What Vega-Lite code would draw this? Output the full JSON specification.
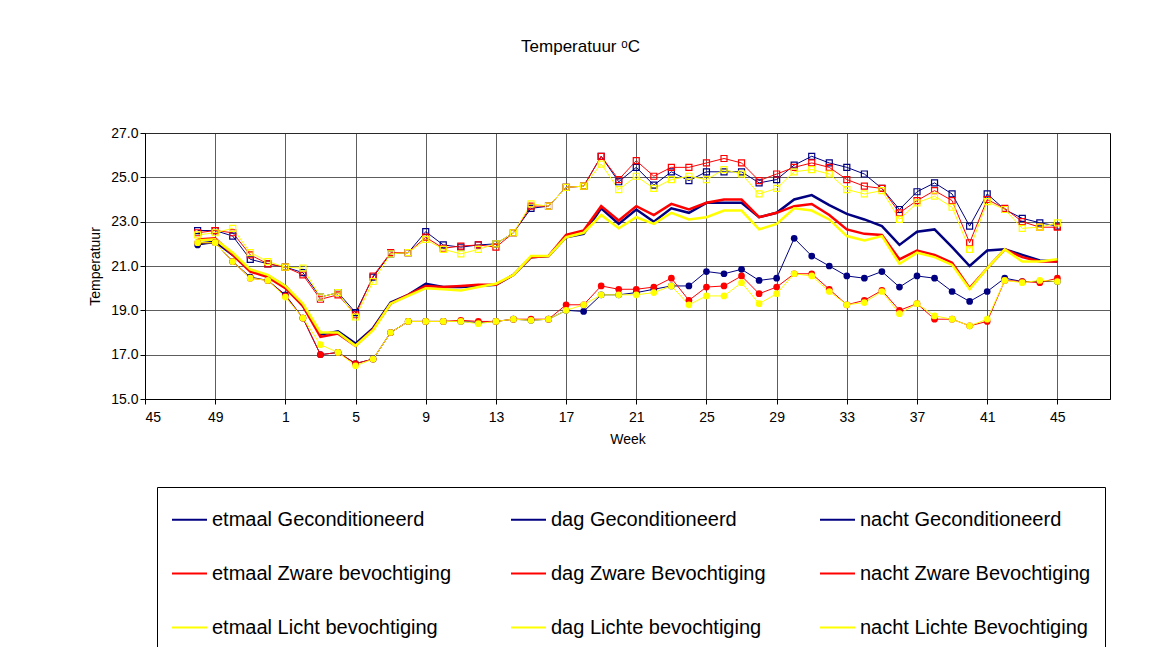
{
  "$schema": "https://vega.github.io/schema/vega-lite/v6.json",
  "width": 965,
  "height": 266,
  "autosize": "none",
  "padding": {"left": 145, "top": 133, "right": 49, "bottom": 248},
  "background": "white",
  "config": {
    "font": "Liberation Sans",
    "view": {"stroke": "black", "strokeWidth": 1},
    "axis": {"labelFontSize": 14, "titleFontSize": 14, "titleFontWeight": "normal", "labelColor": "black", "titleColor": "black", "domainColor": "black", "tickColor": "black", "gridColor": "#333", "gridWidth": 0.8}
  },
  "title": {"text": "Temperatuur ᵒC", "fontSize": 17, "fontWeight": "normal", "anchor": "middle", "dx": -47, "offset": 70},
  "data": {"values": [
    {"i":3,"eG":22.0,"dG":22.6,"nG":21.95,"eZ":22.2,"dZ":22.5,"nZ":22.05,"eL":22.15,"dL":22.4,"nL":22.05},
    {"i":4,"eG":22.1,"dG":22.6,"nG":22.05,"eZ":22.25,"dZ":22.6,"nZ":22.05,"eL":22.2,"dL":22.5,"nL":22.05},
    {"i":5,"eG":21.5,"dG":22.35,"nG":21.2,"eZ":21.5,"dZ":22.5,"nZ":21.2,"eL":21.6,"dL":22.7,"nL":21.2},
    {"i":6,"eG":20.8,"dG":21.3,"nG":20.5,"eZ":20.75,"dZ":21.5,"nZ":20.45,"eL":20.85,"dL":21.6,"nL":20.45},
    {"i":7,"eG":20.55,"dG":21.1,"nG":20.35,"eZ":20.5,"dZ":21.1,"nZ":20.35,"eL":20.6,"dL":21.2,"nL":20.35},
    {"i":8,"eG":20.1,"dG":20.95,"nG":19.7,"eZ":20.0,"dZ":20.95,"nZ":19.65,"eL":20.1,"dL":20.95,"nL":19.6},
    {"i":9,"eG":19.2,"dG":20.7,"nG":18.65,"eZ":19.2,"dZ":20.6,"nZ":18.65,"eL":19.3,"dL":20.9,"nL":18.65},
    {"i":10,"eG":17.9,"dG":19.6,"nG":17.0,"eZ":17.8,"dZ":19.5,"nZ":17.0,"eL":18.0,"dL":19.6,"nL":17.45},
    {"i":11,"eG":18.05,"dG":19.8,"nG":17.1,"eZ":17.95,"dZ":19.7,"nZ":17.1,"eL":18.0,"dL":19.8,"nL":17.1},
    {"i":12,"eG":17.5,"dG":18.9,"nG":16.6,"eZ":17.4,"dZ":18.8,"nZ":16.6,"eL":17.4,"dL":18.7,"nL":16.5},
    {"i":13,"eG":18.2,"dG":20.5,"nG":16.8,"eZ":18.15,"dZ":20.55,"nZ":16.8,"eL":18.1,"dL":20.3,"nL":16.8},
    {"i":14,"eG":19.35,"dG":21.55,"nG":18.0,"eZ":19.3,"dZ":21.6,"nZ":18.0,"eL":19.3,"dL":21.55,"nL":18.0},
    {"i":15,"eG":19.7,"dG":21.6,"nG":18.5,"eZ":19.7,"dZ":21.6,"nZ":18.5,"eL":19.65,"dL":21.6,"nL":18.5},
    {"i":16,"eG":20.2,"dG":22.55,"nG":18.5,"eZ":20.1,"dZ":22.3,"nZ":18.5,"eL":20.0,"dL":22.2,"nL":18.5},
    {"i":17,"eG":20.05,"dG":21.95,"nG":18.5,"eZ":20.05,"dZ":21.8,"nZ":18.5,"eL":19.95,"dL":21.75,"nL":18.5},
    {"i":18,"eG":20.05,"dG":21.85,"nG":18.5,"eZ":20.1,"dZ":21.9,"nZ":18.55,"eL":19.9,"dL":21.55,"nL":18.5},
    {"i":19,"eG":20.1,"dG":21.95,"nG":18.45,"eZ":20.15,"dZ":21.95,"nZ":18.5,"eL":20.05,"dL":21.75,"nL":18.4},
    {"i":20,"eG":20.15,"dG":22.0,"nG":18.5,"eZ":20.15,"dZ":21.85,"nZ":18.5,"eL":20.2,"dL":22.0,"nL":18.5},
    {"i":21,"eG":20.6,"dG":22.5,"nG":18.6,"eZ":20.6,"dZ":22.5,"nZ":18.6,"eL":20.6,"dL":22.5,"nL":18.6},
    {"i":22,"eG":21.4,"dG":23.6,"nG":18.55,"eZ":21.4,"dZ":23.7,"nZ":18.6,"eL":21.45,"dL":23.8,"nL":18.55},
    {"i":23,"eG":21.45,"dG":23.7,"nG":18.6,"eZ":21.45,"dZ":23.7,"nZ":18.6,"eL":21.45,"dL":23.7,"nL":18.6},
    {"i":24,"eG":22.3,"dG":24.55,"nG":19.0,"eZ":22.4,"dZ":24.55,"nZ":19.25,"eL":22.3,"dL":24.55,"nL":19.0},
    {"i":25,"eG":22.45,"dG":24.6,"nG":18.95,"eZ":22.6,"dZ":24.6,"nZ":19.25,"eL":22.5,"dL":24.6,"nL":19.25},
    {"i":26,"eG":23.6,"dG":25.95,"nG":19.7,"eZ":23.7,"dZ":25.95,"nZ":20.1,"eL":23.3,"dL":25.6,"nL":19.7},
    {"i":27,"eG":22.9,"dG":24.8,"nG":19.7,"eZ":23.05,"dZ":24.9,"nZ":19.95,"eL":22.7,"dL":24.45,"nL":19.7},
    {"i":28,"eG":23.55,"dG":25.45,"nG":19.8,"eZ":23.7,"dZ":25.75,"nZ":19.95,"eL":23.2,"dL":25.05,"nL":19.7},
    {"i":29,"eG":23.0,"dG":24.65,"nG":19.95,"eZ":23.3,"dZ":25.05,"nZ":20.05,"eL":22.9,"dL":24.5,"nL":19.8},
    {"i":30,"eG":23.6,"dG":25.25,"nG":20.1,"eZ":23.8,"dZ":25.45,"nZ":20.45,"eL":23.4,"dL":24.9,"nL":20.1},
    {"i":31,"eG":23.4,"dG":24.85,"nG":20.1,"eZ":23.55,"dZ":25.45,"nZ":19.45,"eL":23.1,"dL":25.05,"nL":19.25},
    {"i":32,"eG":23.85,"dG":25.25,"nG":20.75,"eZ":23.85,"dZ":25.65,"nZ":20.05,"eL":23.2,"dL":24.9,"nL":19.65},
    {"i":33,"eG":23.85,"dG":25.25,"nG":20.65,"eZ":24.0,"dZ":25.85,"nZ":20.1,"eL":23.5,"dL":25.35,"nL":19.65},
    {"i":34,"eG":23.85,"dG":25.25,"nG":20.85,"eZ":24.0,"dZ":25.65,"nZ":20.55,"eL":23.5,"dL":25.15,"nL":20.25},
    {"i":35,"eG":23.2,"dG":24.75,"nG":20.35,"eZ":23.2,"dZ":24.85,"nZ":19.75,"eL":22.65,"dL":24.25,"nL":19.3},
    {"i":36,"eG":23.4,"dG":24.9,"nG":20.45,"eZ":23.4,"dZ":25.15,"nZ":20.05,"eL":22.9,"dL":24.5,"nL":19.75},
    {"i":37,"eG":24.0,"dG":25.55,"nG":22.25,"eZ":23.7,"dZ":25.45,"nZ":20.65,"eL":23.6,"dL":25.25,"nL":20.65},
    {"i":38,"eG":24.2,"dG":25.95,"nG":21.45,"eZ":23.8,"dZ":25.65,"nZ":20.65,"eL":23.5,"dL":25.35,"nL":20.55},
    {"i":39,"eG":23.75,"dG":25.65,"nG":21.0,"eZ":23.3,"dZ":25.45,"nZ":19.95,"eL":23.1,"dL":25.15,"nL":19.85},
    {"i":40,"eG":23.35,"dG":25.45,"nG":20.55,"eZ":22.65,"dZ":24.9,"nZ":19.25,"eL":22.35,"dL":24.45,"nL":19.25},
    {"i":41,"eG":23.1,"dG":25.15,"nG":20.45,"eZ":22.45,"dZ":24.6,"nZ":19.45,"eL":22.15,"dL":24.25,"nL":19.35},
    {"i":42,"eG":22.8,"dG":24.5,"nG":20.75,"eZ":22.4,"dZ":24.5,"nZ":19.9,"eL":22.35,"dL":24.4,"nL":19.85},
    {"i":43,"eG":21.95,"dG":23.55,"nG":20.05,"eZ":21.3,"dZ":23.4,"nZ":19.0,"eL":21.1,"dL":23.1,"nL":18.85},
    {"i":44,"eG":22.55,"dG":24.35,"nG":20.55,"eZ":21.7,"dZ":23.95,"nZ":19.3,"eL":21.6,"dL":23.85,"nL":19.3},
    {"i":45,"eG":22.65,"dG":24.75,"nG":20.45,"eZ":21.5,"dZ":24.4,"nZ":18.6,"eL":21.4,"dL":24.15,"nL":18.75},
    {"i":46,"eG":21.85,"dG":24.25,"nG":19.85,"eZ":21.15,"dZ":23.95,"nZ":18.6,"eL":21.05,"dL":23.65,"nL":18.6},
    {"i":47,"eG":21.0,"dG":22.8,"nG":19.4,"eZ":20.0,"dZ":22.05,"nZ":18.3,"eL":19.95,"dL":21.75,"nL":18.3},
    {"i":48,"eG":21.7,"dG":24.25,"nG":19.85,"eZ":20.9,"dZ":24.0,"nZ":18.5,"eL":20.9,"dL":23.9,"nL":18.6},
    {"i":49,"eG":21.75,"dG":23.55,"nG":20.45,"eZ":21.75,"dZ":23.6,"nZ":20.35,"eL":21.75,"dL":23.55,"nL":20.35},
    {"i":50,"eG":21.5,"dG":23.15,"nG":20.3,"eZ":21.4,"dZ":23.0,"nZ":20.3,"eL":21.2,"dL":22.7,"nL":20.25},
    {"i":51,"eG":21.25,"dG":22.95,"nG":20.3,"eZ":21.2,"dZ":22.75,"nZ":20.25,"eL":21.2,"dL":22.75,"nL":20.35},
    {"i":52,"eG":21.2,"dG":22.8,"nG":20.3,"eZ":21.2,"dZ":22.75,"nZ":20.45,"eL":21.3,"dL":22.95,"nL":20.3}
  ]},
  "encoding": {
    "x": {"field": "i", "type": "quantitative", "title": "Week",
      "scale": {"domain": [0, 55], "nice": false, "zero": false},
      "axis": {"values": [0,4,8,12,16,20,24,28,32,36,40,44,48,52], "labelExpr": "datum.value < 8 ? datum.value + 45 : datum.value - 7", "grid": true, "tickSize": 5, "labelPadding": 6, "titlePadding": 8}},
    "y": {"field": "v", "type": "quantitative", "title": "Temperatuur",
      "scale": {"domain": [15, 27], "nice": false, "zero": false},
      "axis": {"values": [15,17,19,21,23,25,27], "format": ".1f", "grid": true, "tickSize": 5, "titlePadding": 8}},
    "color": {"field": "k", "type": "nominal", "title": null,
      "scale": {"domain": ["eG","dG","nG","eZ","dZ","nZ","eL","dL","nL"],
        "range": ["#000080","#000080","#000080","#FF0000","#FF0000","#FF0000","#FFFF00","#FFFF00","#FFFF00"]},
      "legend": {"orient": "none", "legendX": 12, "legendY": 354, "columns": 3, "direction": "horizontal",
        "symbolType": "stroke", "symbolSize": 1225, "symbolStrokeWidth": 2,
        "labelFontSize": 20, "labelLimit": 400, "columnPadding": 50, "rowPadding": 25,
        "padding": 14, "strokeColor": "black", "fillColor": "white",
        "labelExpr": "['etmaal Geconditioneerd','dag Geconditioneerd','nacht Geconditioneerd','etmaal  Zware bevochtiging','dag Zware Bevochtiging','nacht Zware Bevochtiging','etmaal Licht bevochtiging','dag Lichte bevochtiging','nacht Lichte Bevochtiging'][indexof(['eG','dG','nG','eZ','dZ','nZ','eL','dL','nL'], datum.label)]"}}
  },
  "layer": [
    {"transform": [{"fold": ["eG","eZ","eL"], "as": ["k","v"]}],
     "mark": {"type": "line", "strokeWidth": 2.5}},
    {"transform": [{"fold": ["dG","dZ","dL"], "as": ["k","v"]}],
     "mark": {"type": "line", "strokeWidth": 1, "point": {"shape": "square", "filled": false, "size": 36, "strokeWidth": 1.2}}},
    {"transform": [{"fold": ["nG","nZ","nL"], "as": ["k","v"]}],
     "mark": {"type": "line", "strokeWidth": 1, "point": {"shape": "circle", "filled": true, "size": 45}}}
  ]
}
